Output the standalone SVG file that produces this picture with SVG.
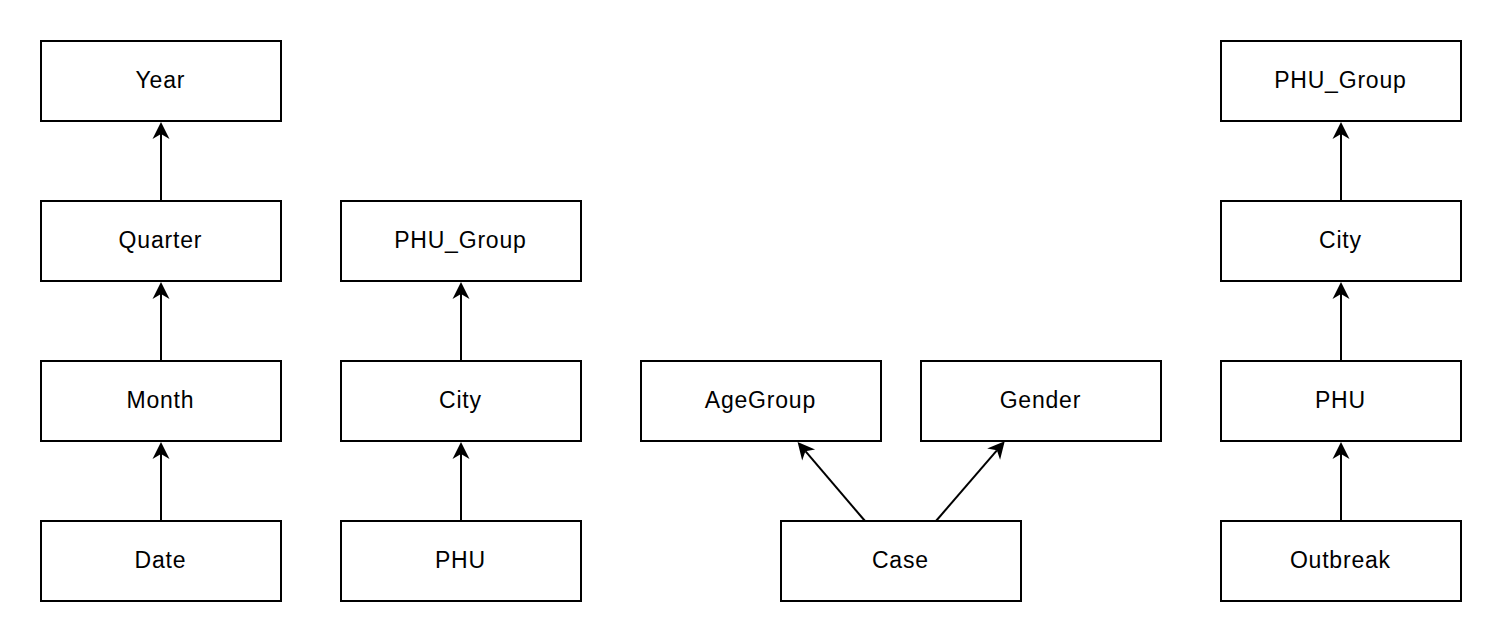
<svg xmlns="http://www.w3.org/2000/svg" width="1502" height="642" viewBox="0 0 1502 642">
<style>
.node rect{fill:#fff;stroke:#000;stroke-width:2}
.node text{font-family:"Liberation Sans",Arial,sans-serif;font-size:23px;letter-spacing:0.8px;fill:#000;text-anchor:middle;dominant-baseline:central}
.edges line{stroke:#000;stroke-width:2;marker-end:url(#arr)}
</style>
<defs>
<marker id="arr" markerUnits="userSpaceOnUse" viewBox="-18 -9 19 18" markerWidth="19" markerHeight="18" refX="-12" refY="0" orient="auto">
<path d="M0,0 L-17,-8.5 L-12,0 L-17,8.5 Z" fill="#000"/>
</marker>
</defs>
<rect width="1502" height="642" fill="#fff"/>
<g id="year" class="node"><rect x="41" y="41" width="240" height="80"/><text x="160.4" y="80">Year</text></g>
<g id="quarter" class="node"><rect x="41" y="201" width="240" height="80"/><text x="160.4" y="240">Quarter</text></g>
<g id="month" class="node"><rect x="41" y="361" width="240" height="80"/><text x="160.4" y="400">Month</text></g>
<g id="date" class="node"><rect x="41" y="521" width="240" height="80"/><text x="160.4" y="560">Date</text></g>
<g id="phugroup1" class="node"><rect x="341" y="201" width="240" height="80"/><text x="460.4" y="240">PHU_Group</text></g>
<g id="city1" class="node"><rect x="341" y="361" width="240" height="80"/><text x="460.4" y="400">City</text></g>
<g id="phu1" class="node"><rect x="341" y="521" width="240" height="80"/><text x="460.4" y="560">PHU</text></g>
<g id="agegroup" class="node"><rect x="641" y="361" width="240" height="80"/><text x="760.4" y="400">AgeGroup</text></g>
<g id="gender" class="node"><rect x="921" y="361" width="240" height="80"/><text x="1040.4" y="400">Gender</text></g>
<g id="case" class="node"><rect x="781" y="521" width="240" height="80"/><text x="900.4" y="560">Case</text></g>
<g id="phugroup2" class="node"><rect x="1221" y="41" width="240" height="80"/><text x="1340.4" y="80">PHU_Group</text></g>
<g id="city2" class="node"><rect x="1221" y="201" width="240" height="80"/><text x="1340.4" y="240">City</text></g>
<g id="phu2" class="node"><rect x="1221" y="361" width="240" height="80"/><text x="1340.4" y="400">PHU</text></g>
<g id="outbreak" class="node"><rect x="1221" y="521" width="240" height="80"/><text x="1340.4" y="560">Outbreak</text></g>
<g id="connectors" class="edges">
<line x1="161" y1="201" x2="161" y2="134"/>
<line x1="161" y1="361" x2="161" y2="294"/>
<line x1="161" y1="521" x2="161" y2="454"/>
<line x1="461" y1="361" x2="461" y2="294"/>
<line x1="461" y1="521" x2="461" y2="454"/>
<line x1="1341" y1="201" x2="1341" y2="134"/>
<line x1="1341" y1="361" x2="1341" y2="294"/>
<line x1="1341" y1="521" x2="1341" y2="454"/>
<line x1="865" y1="521" x2="805.4" y2="451.2"/>
<line x1="936" y1="521" x2="996.9" y2="450.3"/>
</g>
</svg>
